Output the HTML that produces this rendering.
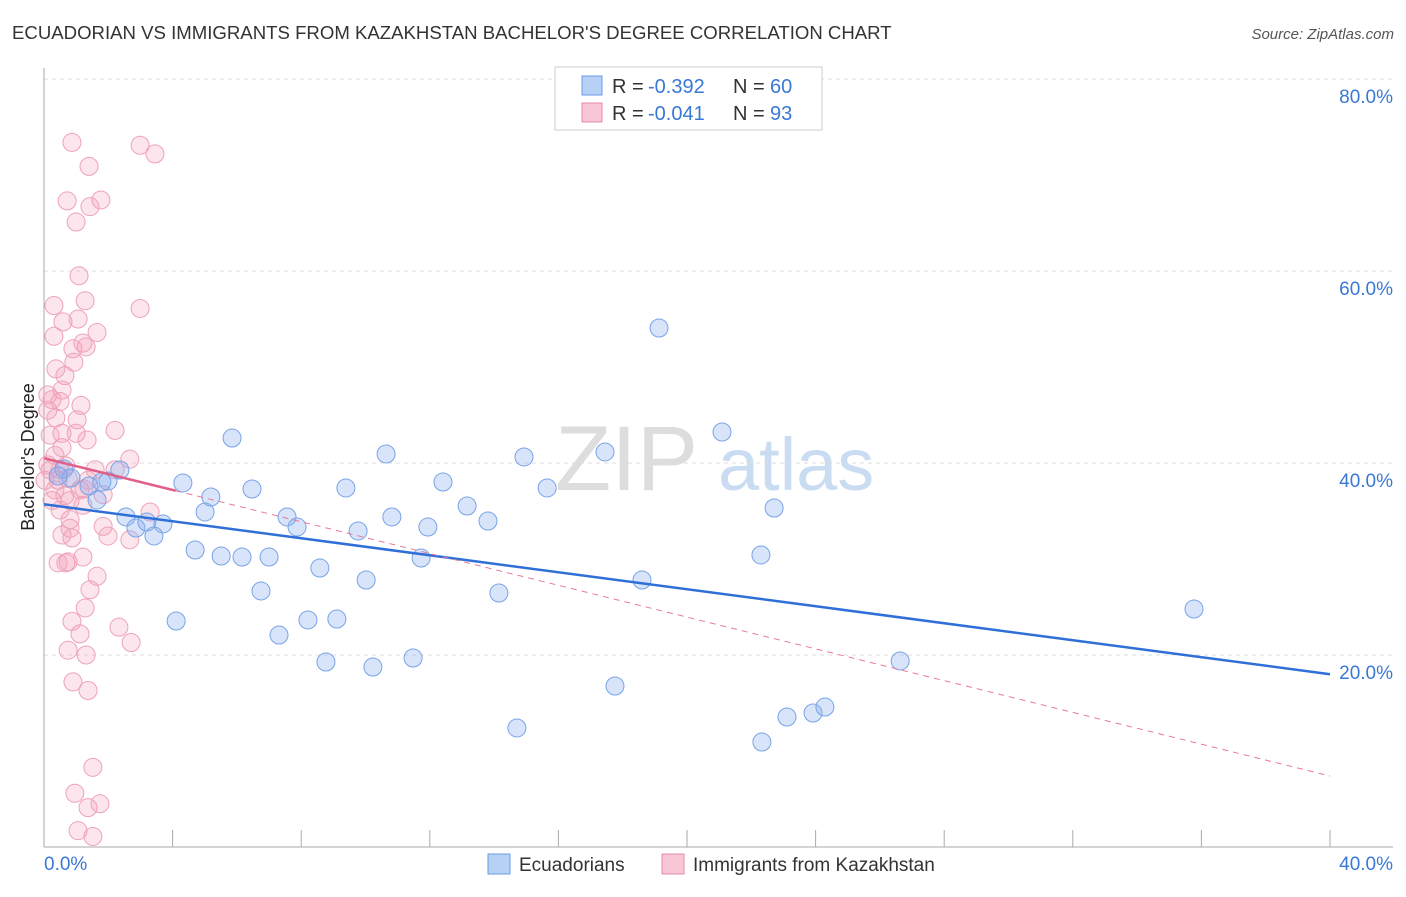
<!DOCTYPE html>
<html><head><meta charset="utf-8"><style>
body{margin:0;background:#fff;font-family:"Liberation Sans",sans-serif;}
svg text{font-family:"Liberation Sans",sans-serif;}
</style></head><body>
<svg id="chart" width="1406" height="892" xmlns="http://www.w3.org/2000/svg">
<text x="12" y="39" font-size="18.6" fill="#333">ECUADORIAN VS IMMIGRANTS FROM KAZAKHSTAN BACHELOR'S DEGREE CORRELATION CHART</text>
<text x="1394" y="39" font-size="15" fill="#555" font-style="italic" text-anchor="end">Source: ZipAtlas.com</text>
<g>
<text x="555" y="490" font-size="92" fill="#ddd" font-family="Liberation Serif, serif">ZIP</text>
<text x="718" y="490" font-size="74" fill="#c9dcf2">atlas</text>
</g>
<g id="grid"></g>
<g id="axes"></g>
<g id="pts"></g>
<g id="trend"></g>
<text transform="translate(34,457) rotate(-90)" font-size="18" fill="#222" text-anchor="middle">Bachelor's Degree</text>
<g>
<rect x="555" y="67" width="267" height="63" fill="#fff" stroke="#ccc"/>
<rect x="582" y="76" width="20" height="19" fill="#b7d0f5" stroke="#6a9be8"/>
<rect x="582" y="103" width="20" height="19" fill="#f9c6d5" stroke="#e88aa8"/>
<g font-size="20" fill="#333">
<text x="612" y="93">R =</text><text x="648" y="93" fill="#3a78d6">-0.392</text><text x="733" y="93">N =</text><text x="770" y="93" fill="#3a78d6">60</text></g>
<g font-size="20" fill="#333">
<text x="612" y="120">R =</text><text x="648" y="120" fill="#3a78d6">-0.041</text><text x="733" y="120">N =</text><text x="770" y="120" fill="#3a78d6">93</text></g>
</g>
<g>
<rect x="488" y="854" width="22" height="20" fill="#b7d0f5" stroke="#6a9be8"/>
<text x="519" y="871" font-size="19" fill="#333">Ecuadorians</text>
<rect x="662" y="854" width="22" height="20" fill="#f9c6d5" stroke="#e88aa8"/>
<text x="693" y="871" font-size="19" fill="#333">Immigrants from Kazakhstan</text>
</g>
</svg>
<script>
const blueX=[19.13,5.85,21.09,10.64,14.93,17.45,2.36,4.32,6.47,5.19,9.39,12.41,15.65,13.16,22.71,1.99,1.65,1.4,0.62,2.55,2.86,3.2,3.7,3.42,5.01,7.56,7.87,10.82,9.77,11.94,13.81,4.7,5.51,6.16,7.0,11.73,22.3,8.58,10.02,18.6,6.75,14.15,35.77,4.11,7.31,8.21,9.11,8.77,10.23,11.48,26.63,17.76,14.71,22.33,23.11,23.92,24.29,0.84,0.44,1.8];
const blueY=[54.06,42.6,43.23,40.94,40.63,41.15,39.27,37.92,37.29,36.46,37.4,38.02,37.4,35.52,35.31,38.13,36.15,37.6,39.38,34.38,33.23,33.85,33.65,32.4,34.9,34.38,33.33,34.38,32.92,33.33,33.96,30.94,30.31,30.21,30.21,30.1,30.42,29.06,27.81,27.81,26.67,26.46,24.79,23.54,22.08,23.65,23.75,19.27,18.75,19.69,19.38,16.77,12.4,10.94,13.54,13.96,14.58,38.44,38.65,38.02];
const pinkX=[0.87,2.99,3.45,1.4,0.72,1.77,1.43,1.0,1.09,0.31,1.28,2.99,0.59,1.06,0.31,1.65,0.9,1.21,1.31,0.93,0.37,0.65,0.56,0.12,0.5,0.25,1.15,0.12,0.37,1.03,1.34,2.21,0.19,0.56,1.0,2.67,0.34,0.12,0.5,0.75,1.37,0.34,0.65,0.81,1.84,1.21,2.21,3.3,0.81,0.81,0.56,0.87,1.84,1.99,2.67,1.21,0.44,0.68,0.75,1.65,1.43,1.28,0.87,1.12,0.75,1.31,2.33,2.71,0.9,1.37,1.52,0.96,1.37,1.74,1.06,1.52,0.44,0.19,0.56,0.03,0.25,0.5,1.12,1.59,0.68,1.24];
const pinkY=[73.4,73.1,72.2,70.9,67.3,67.4,66.7,65.1,59.5,56.4,56.9,56.1,54.7,55.0,53.2,53.6,51.9,52.5,52.1,50.5,49.8,49.1,47.6,47.1,46.4,46.6,46.0,45.5,44.7,44.5,42.4,43.4,42.9,43.1,43.1,40.4,40.8,39.8,39.3,38.4,38.2,37.2,36.6,36.1,36.7,35.6,39.3,34.9,34.1,33.2,32.5,32.2,33.4,32.4,32.0,30.2,29.6,29.6,29.7,28.2,26.8,24.9,23.5,22.2,20.5,20.0,22.9,21.3,17.2,16.3,8.3,5.6,4.1,4.5,1.7,1.1,38.2,39.3,41.6,38.2,36.1,35.1,37.2,39.3,39.7,37.3];
const yTicks=[20,40,60,80];
const xTickLabels=["0.0%","40.0%"];
const blueTrend=[35.7,18.0];
const pinkTrend=[40.5,7.4];
const pinkSolidEnd=4.1;
const NS="http://www.w3.org/2000/svg";
const sx=v=>44+v*32.15, sy=v=>847-v*9.6;
function mk(t,a,p){const e=document.createElementNS(NS,t);for(const k in a)e.setAttribute(k,a[k]);p.appendChild(e);return e;}
const grid=document.getElementById('grid'),axes=document.getElementById('axes'),pts=document.getElementById('pts'),tr=document.getElementById('trend');
yTicks.forEach(v=>{
 const l=mk('line',{x1:44,x2:1393,y1:sy(v),y2:sy(v),stroke:'#ddd','stroke-dasharray':'4,4'},grid);
 
 
 const t=mk('text',{x:1393,y:sy(v)+24,'font-size':19,fill:'#3a78d6','text-anchor':'end'},axes);t.textContent=v.toFixed(1)+'%';
 
 
});
mk('line',{x1:44,x2:44,y1:68,y2:847,stroke:'#aaa'},axes);
mk('line',{x1:44,x2:1393,y1:847,y2:847,stroke:'#aaa'},axes);
for(let k=1;k<=10;k++){const x=44+k*128.6;mk('line',{x1:x,x2:x,y1:830,y2:847,stroke:'#aaa'},axes);}
const xl=mk('text',{x:44,y:870,'font-size':19,fill:'#3a78d6'},axes);xl.textContent=xTickLabels[0];


const xr=mk('text',{x:1393,y:870,'font-size':19,fill:'#3a78d6','text-anchor':'end'},axes);xr.textContent=xTickLabels[1];


pinkX.forEach((x,i)=>{const c=mk('circle',{cx:sx(x),cy:sy(pinkY[i]),r:9,fill:'rgba(244,160,188,0.28)',stroke:'#eea2ba','stroke-width':1},pts);
 
 });
blueX.forEach((x,i)=>{const c=mk('circle',{cx:sx(x),cy:sy(blueY[i]),r:9,fill:'rgba(140,178,240,0.35)',stroke:'#78a4e6','stroke-width':1},pts);
 
 });
const pAt=v=>pinkTrend[0]+(pinkTrend[1]-pinkTrend[0])*v/40;
const bl=mk('line',{x1:sx(0),y1:sy(blueTrend[0]),x2:sx(40),y2:sy(blueTrend[1]),stroke:'#2f6fd8','stroke-width':2.5},tr);


const pd=mk('line',{x1:sx(pinkSolidEnd),y1:sy(pAt(pinkSolidEnd)),x2:sx(40),y2:sy(pinkTrend[1]),stroke:'#e87a9c','stroke-width':1,'stroke-dasharray':'6,5'},tr);


const ps=mk('line',{x1:sx(0),y1:sy(pinkTrend[0]),x2:sx(pinkSolidEnd),y2:sy(pAt(pinkSolidEnd)),stroke:'#e0608a','stroke-width':2.5},tr);


</script>
</body></html>
